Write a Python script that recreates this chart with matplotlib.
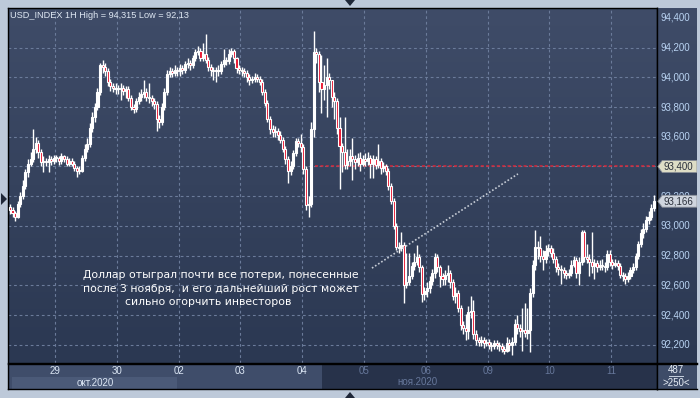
import matplotlib
matplotlib.use('Agg')
import matplotlib.pyplot as plt
import numpy as np
from matplotlib.patches import Polygon, Rectangle
from matplotlib.colors import LinearSegmentedColormap

# ---------------- data (USD_INDEX, 1H candles, 28 Oct - 11 Nov 2020) ----------------
first_open = 93.13
closes = [
    # Oct 28 (partial)
    93.11, 93.09, 93.06, 93.15, 93.20, 93.27, 93.36, 93.42, 93.45, 93.52, 93.56, 93.50, 93.43, 93.44, 93.43, 93.45, 93.44, 93.46,
    # Oct 29
    93.46, 93.44, 93.47, 93.45, 93.42, 93.44, 93.42, 93.39, 93.37, 93.37, 93.46, 93.52, 93.55, 93.66, 93.73, 93.80, 93.90, 94.08, 94.07, 94.04, 93.97, 93.94, 93.93, 93.92,
    # Oct 30
    93.92, 93.93, 93.91, 93.92, 93.86, 93.80, 93.79, 93.84, 93.87, 93.89, 93.90, 93.87, 93.86, 93.84, 93.82, 93.72, 93.70, 93.80, 93.90, 94.02, 94.04, 94.03, 94.05, 94.04,
    # Nov 2
    94.06, 94.05, 94.09, 94.10, 94.08, 94.13, 94.17, 94.18, 94.13, 94.16, 94.12, 94.07, 94.05, 94.04, 94.05, 94.04, 94.09, 94.12, 94.11, 94.16, 94.18, 94.13, 94.06, 94.05,
    # Nov 3
    94.04, 94.03, 94.00, 93.98, 93.99, 94.00, 93.99, 93.97, 93.90, 93.83, 93.72, 93.65, 93.63, 93.64, 93.61, 93.58, 93.52, 93.45, 93.37, 93.40, 93.49, 93.57, 93.56, 93.53,
    # Nov 4
    93.38, 93.14, 93.15, 93.65, 94.17, 94.16, 93.97, 93.92, 93.95, 94.00, 93.98, 93.87, 93.84, 93.66, 93.54, 93.50, 93.41, 93.44, 93.47, 93.45, 93.43, 93.46, 93.42, 93.45,
    # Nov 5
    93.44, 93.46, 93.42, 93.45, 93.41, 93.44, 93.39, 93.40, 93.37, 93.27, 93.17, 93.00, 92.86, 92.85, 92.87, 92.60, 92.62, 92.66, 92.73, 92.76, 92.79, 92.72, 92.54, 92.56,
    # Nov 6
    92.58, 92.63, 92.68, 92.79, 92.72, 92.66, 92.64, 92.67, 92.68, 92.62, 92.53, 92.55, 92.45, 92.33, 92.31, 92.29, 92.42, 92.43, 92.27, 92.23, 92.22, 92.23, 92.21, 92.22,
    # Nov 9
    92.20, 92.19, 92.21, 92.20, 92.19, 92.17, 92.16, 92.21, 92.20, 92.22, 92.34, 92.31, 92.29, 92.30, 92.28, 92.30, 92.55, 92.74, 92.86, 92.85, 92.80, 92.78, 92.83, 92.85,
    # Nov 10
    92.82, 92.78, 92.72, 92.71, 92.70, 92.68, 92.67, 92.68, 92.74, 92.77, 92.68, 92.76, 92.96, 92.79, 92.78, 92.76, 92.73, 92.75, 92.72, 92.74, 92.73, 92.72, 92.81, 92.76,
    # Nov 11 (partial)
    92.74, 92.75, 92.73, 92.67, 92.66, 92.64, 92.66, 92.70, 92.72, 92.80, 92.88, 92.95, 92.98, 93.04, 93.06, 93.12, 93.166,
]
highs = [
    93.15, 93.13, 93.10, 93.17, 93.23, 93.31, 93.38, 93.45, 93.50, 93.65, 93.60, 93.58, 93.52, 93.47, 93.46, 93.48, 93.47, 93.48,
    93.48, 93.47, 93.49, 93.48, 93.47, 93.46, 93.46, 93.44, 93.40, 93.40, 93.48, 93.55, 93.59, 93.69, 93.77, 93.83, 93.93, 94.10, 94.12, 94.10, 94.06, 93.99, 93.96, 93.96,
    93.95, 93.96, 93.95, 93.94, 93.94, 93.88, 93.82, 93.86, 93.90, 93.92, 93.98, 93.93, 93.96, 93.88, 93.86, 93.84, 93.75, 93.83, 93.93, 94.05, 94.07, 94.06, 94.08, 94.07,
    94.09, 94.08, 94.11, 94.13, 94.12, 94.15, 94.19, 94.21, 94.20, 94.23, 94.29, 94.14, 94.09, 94.07, 94.07, 94.08, 94.11, 94.19, 94.14, 94.19, 94.20, 94.19, 94.14, 94.08,
    94.07, 94.06, 94.05, 94.02, 94.01, 94.03, 94.02, 94.01, 93.99, 93.92, 93.85, 93.74, 93.68, 93.67, 93.66, 93.64, 93.60, 93.54, 93.47, 93.44, 93.51, 93.59, 93.59, 93.62,
    93.55, 93.40, 93.20, 93.70, 94.315, 94.20, 94.18, 94.15, 94.08, 94.13, 94.03, 93.98, 93.90, 93.86, 93.73, 93.56, 93.73, 93.52, 93.52, 93.59, 93.48, 93.49, 93.50, 93.48,
    93.49, 93.50, 93.48, 93.48, 93.47, 93.55, 93.46, 93.43, 93.42, 93.39, 93.29, 93.19, 93.02, 92.89, 92.96, 92.89, 92.82, 92.82, 92.76, 92.82, 92.87, 92.81, 92.74, 92.59,
    92.62, 92.66, 92.71, 92.82, 92.81, 92.74, 92.68, 92.70, 92.74, 92.70, 92.64, 92.59, 92.57, 92.47, 92.36, 92.41, 92.46, 92.53, 92.50, 92.30, 92.25, 92.26, 92.25, 92.24,
    92.24, 92.22, 92.23, 92.23, 92.22, 92.21, 92.19, 92.25, 92.24, 92.25, 92.37, 92.40, 92.34, 92.45, 92.48, 92.45, 92.58, 92.77, 92.97, 92.90, 92.93, 92.84, 92.87, 92.88,
    92.87, 92.85, 92.80, 92.75, 92.74, 92.72, 92.70, 92.71, 92.77, 92.80, 92.79, 92.79, 92.97, 92.97, 92.88, 92.81, 92.96, 92.78, 92.77, 92.77, 92.78, 92.76, 92.84, 92.84,
    92.78, 92.78, 92.77, 92.75, 92.69, 92.68, 92.69, 92.72, 92.75, 92.82, 92.90, 92.98, 93.02, 93.07, 93.10, 93.15, 93.21,
]
lows = [
    93.08, 93.06, 93.03, 93.05, 93.13, 93.18, 93.25, 93.33, 93.40, 93.43, 93.49, 93.46, 93.40, 93.36, 93.40, 93.36, 93.41, 93.42,
    93.43, 93.41, 93.42, 93.43, 93.40, 93.40, 93.40, 93.37, 93.33, 93.35, 93.36, 93.44, 93.50, 93.53, 93.63, 93.70, 93.78, 93.88, 94.03, 94.01, 93.94, 93.91, 93.90, 93.89,
    93.89, 93.85, 93.88, 93.86, 93.84, 93.78, 93.76, 93.77, 93.82, 93.84, 93.86, 93.84, 93.83, 93.81, 93.79, 93.64, 93.66, 93.68, 93.78, 93.88, 94.00, 94.00, 94.01, 94.01,
    94.01, 94.02, 94.03, 94.06, 94.05, 94.06, 94.11, 94.15, 94.11, 94.11, 94.10, 94.04, 94.01, 93.98, 93.97, 94.01, 94.02, 94.07, 94.08, 94.09, 94.14, 94.10, 94.03, 94.02,
    94.01, 94.00, 93.97, 93.95, 93.96, 93.97, 93.97, 93.95, 93.88, 93.81, 93.70, 93.62, 93.60, 93.60, 93.58, 93.56, 93.50, 93.42, 93.29, 93.34, 93.38, 93.47, 93.53, 93.50,
    93.35, 93.11, 93.06, 93.13, 93.60, 94.10, 93.90, 93.76, 93.85, 93.73, 93.92, 93.80, 93.72, 93.62, 93.25, 93.36, 93.38, 93.38, 93.40, 93.31, 93.38, 93.40, 93.37, 93.40,
    93.40, 93.41, 93.32, 93.32, 93.38, 93.39, 93.35, 93.36, 93.34, 93.24, 93.15, 92.98, 92.84, 92.82, 92.83, 92.48, 92.58, 92.60, 92.64, 92.70, 92.74, 92.69, 92.49, 92.50,
    92.52, 92.55, 92.60, 92.65, 92.69, 92.59, 92.60, 92.60, 92.62, 92.58, 92.50, 92.48, 92.42, 92.30, 92.27, 92.23, 92.24, 92.38, 92.24, 92.20, 92.19, 92.19, 92.18, 92.19,
    92.17, 92.16, 92.17, 92.17, 92.16, 92.15, 92.14, 92.15, 92.16, 92.13, 92.20, 92.27, 92.25, 92.16, 92.25, 92.24, 92.15, 92.52, 92.70, 92.78, 92.76, 92.70, 92.75, 92.80,
    92.79, 92.75, 92.69, 92.67, 92.61, 92.65, 92.64, 92.65, 92.66, 92.72, 92.65, 92.60, 92.74, 92.76, 92.75, 92.66, 92.68, 92.64, 92.69, 92.70, 92.70, 92.69, 92.70, 92.73,
    92.71, 92.72, 92.70, 92.65, 92.63, 92.61, 92.62, 92.64, 92.68, 92.70, 92.78, 92.86, 92.92, 92.96, 93.01, 93.04, 93.10,
]
opens = [first_open] + closes[:-1]

day_start_bars = [18, 42, 66, 90, 114, 138, 162, 186, 210, 234]
day_labels = ['29', '30', '02', '03', '04', '05', '06', '09', '10', '11']
price_ticks = [94.4, 94.2, 94.0, 93.8, 93.6, 93.4, 93.2, 93.0, 92.8, 92.6, 92.4, 92.2]
price_labels = ['94,400', '94,200', '94,000', '93,800', '93,600', '93,400', '93,200',
                '93,000', '92,800', '92,600', '92,400', '92,200']
level_price = 93.40
level_label = '93,400'
current_price = 93.166
current_label = '93,166'
title = 'USD_INDEX 1H High = 94,315 Low = 92,13'
note_lines = ['Доллар отыграл почти все потери, понесенные',
              'после 3 ноября,  и его дальнейший рост может',
              'сильно огорчить инвесторов']
trend_x = [140.6, 197.3]
trend_y = [92.716, 93.35]
level_start = 118.5
month_labels = ['окт.2020', 'ноя.2020']

# ---------------- layout ----------------
W, H = 700, 398
fig = plt.figure(figsize=(7, 3.98), dpi=100)
fig.patch.set_facecolor('#bdc9d9')

def fpx(x, y):
    return (x / W, 1 - y / H)

XLIM = (-0.75, 251.3)
YLIM = (92.077, 94.467)
grad_cmap = LinearSegmentedColormap.from_list('g', ['#3f4c68', '#2b3852'])

def gradient(ax):
    ax.imshow(np.linspace(0, 1, 256).reshape(-1, 1), extent=[0, 1, 0, 1],
              transform=ax.transAxes, cmap=grad_cmap, aspect='auto', zorder=0)

def black_spines(ax):
    for s in ax.spines.values():
        s.set_color('#000000')
        s.set_linewidth(1.0)

FONT = 'Liberation Sans'

# main plot
ax = fig.add_axes([8 / W, 1 - 363 / H, 649 / W, 355 / H])
gradient(ax)
ax.set_xlim(*XLIM)
ax.set_ylim(*YLIM)
ax.set_xticks([])
ax.set_yticks([])
black_spines(ax)

grid_kw = dict(color='#6b7b9a', lw=0.8, linestyle=(0, (2.5, 2.5)), zorder=1)
for p in price_ticks[1:]:
    ax.axhline(p, **grid_kw)
for b in day_start_bars:
    ax.axvline(b - 0.5, **grid_kw)

# red level line
ax.hlines(level_price, level_start, XLIM[1], colors='#d8283a', linestyles=(0, (2, 1.5)),
          lw=1.1, zorder=2)

# candles
x = np.arange(len(closes))
o = np.array(opens); c = np.array(closes); h = np.array(highs); l = np.array(lows)
top = np.maximum(o, c); bot = np.minimum(o, c)
ax.vlines(x, np.minimum(l, bot), np.maximum(h, top), colors='white', lw=1.0, zorder=3)
hgt = np.maximum(top - bot, 0.007)
face = np.where(c >= o, '#ffffff', '#e8122e')
ax.bar(x, hgt, bottom=bot, width=0.8, color=face, edgecolor='white', linewidth=0.8, zorder=4)

# trend dotted line
ax.plot(trend_x, trend_y, color='#c6ccd6', lw=1.2, linestyle=(0, (1, 1.2)), zorder=5)

# title
ax.text(2 / 649, 1 - 7 / 355, title, transform=ax.transAxes, ha='left', va='center',
        fontsize=6.6, color='#dfe8f3', family=FONT, zorder=6)

# annotation text
note_pos = [(83, 275), (83, 289), (125, 302)]
for (px, py), line in zip(note_pos, note_lines):
    ax.text((px - 8) / 649, (363 - py) / 355, line, transform=ax.transAxes, ha='left',
            va='center', fontsize=7.8, color='#ffffff', family='DejaVu Sans', zorder=6)

# right price panel
ax2 = fig.add_axes([657 / W, 1 - 363 / H, 40 / W, 355 / H])
gradient(ax2)
ax2.set_xlim(0, 1)
ax2.set_ylim(*YLIM)
ax2.set_xticks([]); ax2.set_yticks([])
black_spines(ax2)
ax2.spines['right'].set_visible(False)
ax2.spines['top'].set_visible(False)
for p, lab in zip(price_ticks, price_labels):
    if lab == level_label:
        continue  # shown inside the level box instead
    ax2.text(0.08, p, lab, ha='left', va='center', fontsize=7, color='#b9d3f2', family=FONT)

def price_box(p, lab, fc):
    hh = 0.04
    poly = Polygon([(0.02, p), (0.13, p + hh), (1.0, p + hh), (1.0, p - hh), (0.13, p - hh)],
                   closed=True, facecolor=fc, edgecolor='#8a8f98', lw=0.6, zorder=5)
    ax2.add_patch(poly)
    ax2.text(0.17, p, lab, ha='left', va='center', fontsize=7, color='#2a2f3a',
             family=FONT, zorder=6)

price_box(level_price, level_label, '#deddc6')
price_box(current_price, current_label, '#cfd5de')

# bottom date bar
ax3 = fig.add_axes([8 / W, 1 - 389 / H, 649 / W, 25 / H])
ax3.set_xlim(*XLIM); ax3.set_ylim(0, 1)
ax3.set_xticks([]); ax3.set_yticks([])
ax3.set_facecolor('#27324a')
black_spines(ax3)
ax3.add_patch(Rectangle((0, 0), (322 - 8) / 649, 1, transform=ax3.transAxes,
                        facecolor='#3f4d6a', edgecolor='none', zorder=0))
ax3.add_patch(Rectangle((4 / 649, 0), (177 - 12) / 649, 12 / 25, transform=ax3.transAxes,
                        facecolor='#4b5a78', edgecolor='none', zorder=0))
for i, (b, lab) in enumerate(zip(day_start_bars, day_labels)):
    col = '#dbe6f4' if i < 5 else '#66779a'
    ax3.text(b - 0.5, 0.72, lab, ha='center', va='center', fontsize=7, color=col, family=FONT)
ax3.text((95 - 8) / 649, 0.25, month_labels[0], transform=ax3.transAxes, ha='center',
         va='center', fontsize=7, color='#dbe6f4', family=FONT)
ax3.text((417 - 8) / 649, 0.27, month_labels[1], transform=ax3.transAxes, ha='center',
         va='center', fontsize=7, color='#66779a', family=FONT)

# bottom-right box
ax4 = fig.add_axes([657 / W, 1 - 389 / H, 40 / W, 25 / H])
ax4.set_xlim(0, 1); ax4.set_ylim(0, 1)
ax4.set_xticks([]); ax4.set_yticks([])
ax4.set_facecolor('#3e4c68')
black_spines(ax4)
ax4.spines['right'].set_visible(False)
ax4.text(0.48, 0.76, '487', ha='center', va='center', fontsize=7, color='#e6edf6', family=FONT)
ax4.plot([0.30, 0.66], [0.52, 0.52], color='#c8d2e0', lw=0.7)
ax4.text(0.48, 0.26, '>250<', ha='center', va='center', fontsize=7, color='#e6edf6', family=FONT)

# small navigation arrows
arrow_col = '#1f2738'
for pts in ([(345, 0), (355, 0), (350, 6)],
            [(345, 398), (355, 398), (350, 392)],
            [(1, 193), (1, 205), (7, 199)]):
    fig.patches.append(Polygon([fpx(px, py) for px, py in pts], closed=True,
                               transform=fig.transFigure, facecolor=arrow_col,
                               edgecolor='none', figure=fig))

fig.savefig('out.png', dpi=100, facecolor=fig.get_facecolor())
